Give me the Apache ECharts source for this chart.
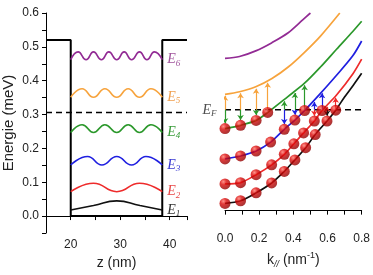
<!DOCTYPE html>
<html>
<head>
<meta charset="utf-8">
<script src="https://cdn.jsdelivr.net/npm/echarts@6/dist/echarts.min.js"></script>
<style>
html, body { margin: 0; padding: 0; background: #fff; }
#chart { width: 373px; height: 275px; }
</style>
</head>
<body>
<div id="chart"></div>
<script>
// Fermi level (same energy scale in both panels)
const fermiE = 0.306

// left panel: well outline
const wellZ = [15, 20, 20, 38.5, 38.5, 43.5]
const wellE = [0.52, 0.52, 0, 0, 0.52, 0.52]

// left panel: confined levels |psi|^2 (peaks / troughs)
const levelZ1 = [20, 24.6, 29.3, 34, 38.5]
const levelE1 = [0.018, 0.031, 0.045, 0.031, 0.018]
const levelZ2 = [20, 24.6, 29.3, 33.9, 38.5]
const levelE2 = [0.072, 0.097, 0.072, 0.097, 0.072]
const levelZ3 = [20, 23.4, 26.3, 29.3, 32.3, 35.2, 38.5]
const levelE3 = [0.151, 0.176, 0.151, 0.176, 0.151, 0.176, 0.151]
const levelZ4 = [20, 22.3, 24.6, 26.9, 29.3, 31.6, 33.9, 36.2, 38.5]
const levelE4 = [0.247, 0.27, 0.247, 0.27, 0.247, 0.27, 0.247, 0.27, 0.247]
const levelZ5 = [20, 22.3, 24.6, 26.9, 29.3, 31.6, 33.9, 36.2, 38.5]
const levelE5 = [0.351, 0.376, 0.351, 0.376, 0.351, 0.376, 0.351, 0.376, 0.351]
const levelZ6 = [20, 21.5, 23.1, 24.6, 26.2, 27.7, 29.3, 30.8, 32.3, 33.9, 35.4, 36.9, 38.5]
const levelE6 = [0.462, 0.485, 0.462, 0.485, 0.462, 0.485, 0.462, 0.485, 0.462, 0.485, 0.462, 0.485, 0.462]

// right panel: subband dispersions
const kPurple = [0, 0.085, 0.18, 0.275, 0.37, 0.455, 0.5]
const ePurple = [0.462, 0.468, 0.485, 0.51, 0.54, 0.579, 0.6]
const kOrange = [0, 0.085, 0.18, 0.275, 0.37, 0.464, 0.559, 0.672]
const eOrange = [0.353, 0.361, 0.376, 0.401, 0.436, 0.48, 0.53, 0.6]
const kGreen = [0, 0.091, 0.182, 0.25, 0.37, 0.464, 0.559, 0.653, 0.748, 0.8]
const eGreen = [0.249, 0.259, 0.274, 0.298, 0.347, 0.386, 0.436, 0.49, 0.544, 0.575]
const kBlue = [0, 0.091, 0.182, 0.267, 0.347, 0.409, 0.466, 0.559, 0.653, 0.748, 0.8]
const eBlue = [0.157, 0.166, 0.181, 0.208, 0.247, 0.275, 0.304, 0.356, 0.411, 0.47, 0.515]
const kRed = [0, 0.091, 0.182, 0.273, 0.347, 0.403, 0.46, 0.523, 0.568, 0.653, 0.748, 0.8]
const eRed = [0.081, 0.085, 0.109, 0.139, 0.171, 0.203, 0.236, 0.272, 0.304, 0.351, 0.415, 0.46]
const kBlack = [0, 0.091, 0.182, 0.273, 0.347, 0.409, 0.472, 0.528, 0.597, 0.648, 0.7, 0.75, 0.8]
const eBlack = [0.022, 0.03, 0.054, 0.084, 0.119, 0.154, 0.191, 0.231, 0.272, 0.305, 0.345, 0.38, 0.417]

// how many occupied states (balls) on each band, counted from k = 0
const ballsGreen = 4
const ballsBlue = 7
const ballsRed = 9
const ballsBlack = 10

// arrows from E_F: up to the next band, down to the occupied state
const upK_orange = [0, 0.091, 0.182, 0.25]
const upE_orange = [0.349, 0.356, 0.37, 0.388]
const upK_green = [0.347, 0.409, 0.466]
const upE_green = [0.332, 0.357, 0.381]
const upK_blue = [0.523, 0.568]
const upE_blue = [0.33, 0.356]
const upK_red = [0.597, 0.648]
const upE_red = [0.315, 0.343]
const downK_green = [0, 0.091, 0.182]
const downE_green = [0.265, 0.275, 0.29]
const downK_blue = [0.347, 0.409]
const downE_blue = [0.263, 0.291]
const downK_red = [0.523]
const downE_red = [0.288]
const downK_black = [0.597]
const downE_black = [0.288]

const cBlack = '#111111'
const cRed = '#ee2b2b'
const cBlue = '#1f1fe0'
const cGreen = '#2b982b'
const cOrange = '#f7a33c'
const cPurple = '#922b94'

const sans = 'Liberation Sans, Arial, sans-serif'
const serif = 'Liberation Serif, DejaVu Serif, serif'

const zip = (a, b) => a.map((v, i) => [v, b[i]])

const chart = echarts.init(document.getElementById('chart'))

const levelSeries = (z, e, color, labelColor, n) => ({
  type: 'line', xAxisIndex: 0, yAxisIndex: 0,
  data: zip(z, e), smooth: true, showSymbol: false,
  lineStyle: { color: color, width: 1.6 },
  endLabel: {
    show: true, distance: 5,
    formatter: '{e|E}{s|' + n + '}',
    rich: {
      e: { fontFamily: serif, fontStyle: 'italic', fontSize: 14, color: labelColor, lineHeight: 16 },
      s: { fontFamily: serif, fontStyle: 'italic', fontSize: 9, color: labelColor, verticalAlign: 'bottom', lineHeight: 9 }
    }
  },
  z: 3
})

const bandSeries = (k, e, color) => ({
  type: 'line', xAxisIndex: 1, yAxisIndex: 1,
  data: zip(k, e), smooth: 0.3, showSymbol: false,
  lineStyle: { color: color, width: 1.7 }, z: 3
})

const ballGradient = new echarts.graphic.RadialGradient(0.35, 0.3, 0.75, [
  { offset: 0, color: '#ff7a6e' },
  { offset: 0.35, color: '#dc0a0a' },
  { offset: 1, color: '#8c0000' }
])

const ballSeries = (k, e, count) => ({
  type: 'scatter', xAxisIndex: 1, yAxisIndex: 1,
  data: zip(k, e).slice(0, count),
  symbolSize: 11,
  itemStyle: { color: ballGradient },
  z: 6
})

const arrowSeries = (k, e, color) => ({
  type: 'lines', coordinateSystem: 'cartesian2d', xAxisIndex: 1, yAxisIndex: 1,
  symbol: ['none', 'arrow'], symbolSize: 5,
  lineStyle: { color: color, width: 1.2, opacity: 1 },
  data: k.map((v, i) => ({ coords: [[v, fermiE], [v, e[i]]] })),
  z: 4
})

const tickLabelY = v => {
  const r = Math.round(v * 100)
  return r % 10 === 0 && r >= 0 ? (r / 100).toFixed(1) : ''
}

const axisLine = { lineStyle: { color: '#000', width: 1 } }
const axisTick = { length: 4, lineStyle: { color: '#000' } }

const option = {
  animation: false,
  textStyle: { fontFamily: sans },
  grid: [
    { left: 45, right: 186, top: 13, bottom: 42 },
    { left: 225, right: 7, top: 13, bottom: 42 }
  ],
  xAxis: [
    {
      gridIndex: 0, type: 'value', min: 15, max: 43.5, interval: 5,
      axisLine: axisLine, axisTick: axisTick, splitLine: { show: false },
      axisLabel: { formatter: v => (v % 10 === 0 ? String(v) : ''), fontSize: 12, color: '#222', margin: 6 },
      name: 'z (nm)', nameLocation: 'middle', nameGap: 23,
      nameTextStyle: { fontSize: 14, color: '#222' }
    },
    {
      gridIndex: 1, type: 'value', min: 0, max: 0.8, interval: 0.1,
      axisLine: axisLine, axisTick: axisTick, splitLine: { show: false },
      axisLabel: {
        formatter: v => (Math.round(v * 10) % 2 === 0 ? v.toFixed(1) : ''),
        fontSize: 12, color: '#222', margin: 6
      },
      name: '{a|k}{sub|//}{a| (nm}{sup|-1}{a|)}', nameLocation: 'middle', nameGap: 22,
      nameTextStyle: {
        rich: {
          a: { fontSize: 14, color: '#222', lineHeight: 20 },
          sub: { fontSize: 9, color: '#222', fontStyle: 'italic', verticalAlign: 'bottom', lineHeight: 9, padding: [0, 0, 1, 0] },
          sup: { fontSize: 9, color: '#222', verticalAlign: 'top', lineHeight: 9, padding: [1, 0, 0, 0] }
        }
      }
    }
  ],
  yAxis: [
    {
      gridIndex: 0, type: 'value', min: -0.05, max: 0.6, interval: 0.05,
      axisLine: axisLine, axisTick: axisTick, splitLine: { show: false },
      axisLabel: { formatter: tickLabelY, fontSize: 12, color: '#222', margin: 7 },
      name: 'Energie (meV)', nameLocation: 'middle', nameGap: 30,
      nameTextStyle: { fontSize: 15, color: '#222' }
    },
    { gridIndex: 1, type: 'value', min: -0.05, max: 0.6, show: false }
  ],
  series: [
    // well + Fermi level, left
    {
      type: 'line', xAxisIndex: 0, yAxisIndex: 0, data: zip(wellZ, wellE),
      showSymbol: false, lineStyle: { color: '#000', width: 2 }, z: 2
    },
    {
      type: 'line', xAxisIndex: 0, yAxisIndex: 0, data: [[15, fermiE], [43.5, fermiE]],
      showSymbol: false, lineStyle: { color: '#000', width: 1.5, type: [6, 4] }, z: 2
    },
    levelSeries(levelZ1, levelE1, cBlack, '#333333', 1),
    levelSeries(levelZ2, levelE2, cRed, '#e84848', 2),
    levelSeries(levelZ3, levelE3, cBlue, '#3a3ad2', 3),
    levelSeries(levelZ4, levelE4, cGreen, '#3a9c3a', 4),
    levelSeries(levelZ5, levelE5, cOrange, '#f0a050', 5),
    levelSeries(levelZ6, levelE6, cPurple, '#a0559c', 6),

    // Fermi level, right
    {
      type: 'line', xAxisIndex: 1, yAxisIndex: 1, data: [[0, fermiE], [0.8, fermiE]],
      showSymbol: false, lineStyle: { color: '#000', width: 1.5, type: [6, 4] }, z: 2
    },
    {
      type: 'scatter', xAxisIndex: 1, yAxisIndex: 1, data: [[0, fermiE]],
      symbolSize: 1, itemStyle: { color: 'rgba(0,0,0,0)' },
      label: {
        show: true, position: 'left', distance: 8,
        formatter: '{e|E}{s|F}',
        rich: {
          e: { fontFamily: serif, fontStyle: 'italic', fontSize: 14, color: '#222', lineHeight: 16 },
          s: { fontFamily: serif, fontStyle: 'italic', fontSize: 9, color: '#222', verticalAlign: 'bottom', lineHeight: 9 }
        }
      }
    },
    bandSeries(kPurple, ePurple, cPurple),
    bandSeries(kOrange, eOrange, cOrange),
    bandSeries(kGreen, eGreen, cGreen),
    bandSeries(kBlue, eBlue, cBlue),
    bandSeries(kRed, eRed, cRed),
    bandSeries(kBlack, eBlack, cBlack),

    arrowSeries(upK_orange, upE_orange, cOrange),
    arrowSeries(upK_green, upE_green, cGreen),
    arrowSeries(upK_blue, upE_blue, cBlue),
    arrowSeries(upK_red, upE_red, cRed),
    arrowSeries(downK_green, downE_green, cGreen),
    arrowSeries(downK_blue, downE_blue, cBlue),
    arrowSeries(downK_red, downE_red, cRed),
    arrowSeries(downK_black, downE_black, cBlack),

    ballSeries(kGreen, eGreen, ballsGreen),
    ballSeries(kBlue, eBlue, ballsBlue),
    ballSeries(kRed, eRed, ballsRed),
    ballSeries(kBlack, eBlack, ballsBlack)
  ]
}

chart.setOption(option)
</script>
</body>
</html>
